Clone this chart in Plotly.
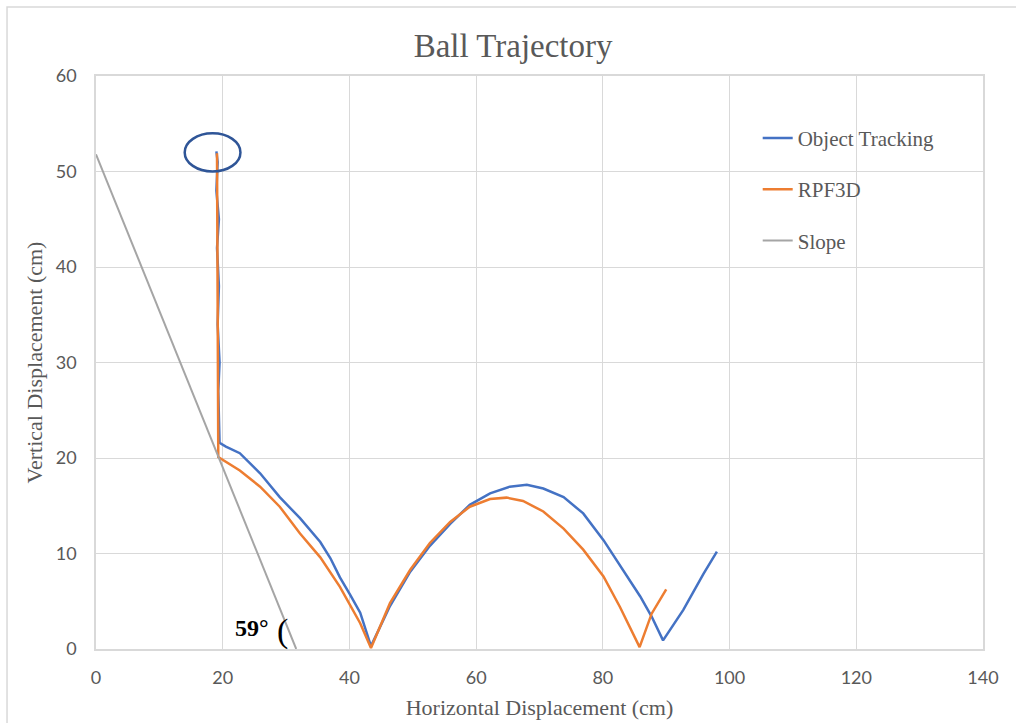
import plotly.graph_objects as go

# Object tracking trajectory (cm)
tracking_x = [19.0, 19.2, 19.0, 19.4, 19.1, 19.4, 19.2, 19.5, 19.3, 19.4, 19.5,
              20.5, 22.7, 25.9, 29.0, 32.2, 35.4, 37.0, 38.5, 40.1, 41.7, 43.4,
              46.4, 49.6, 52.7, 55.9, 59.0, 62.2, 65.3, 68.0, 70.6, 73.8, 76.9,
              80.1, 83.2, 85.9, 87.7, 89.5, 92.7, 95.9, 98.0]
tracking_y = [52.1, 51.0, 48.0, 45.0, 42.0, 38.0, 34.0, 30.0, 27.0, 24.0, 21.6,
              21.2, 20.5, 18.4, 15.9, 13.7, 11.2, 9.5, 7.5, 5.7, 3.8, 0.3,
              4.5, 8.1, 10.8, 13.1, 15.1, 16.3, 17.0, 17.2, 16.8, 15.9, 14.2,
              11.4, 8.3, 5.5, 3.4, 0.9, 4.1, 7.9, 10.2]

# RPF3D simulated trajectory (cm)
rpf_x = [19.1, 19.3, 22.7, 25.9, 29.0, 32.2, 35.4, 38.5, 41.7, 43.4,
         46.4, 49.6, 52.7, 55.9, 59.0, 62.2, 64.8, 67.4, 70.6, 73.8, 76.9,
         80.1, 82.7, 84.5, 85.8, 87.7, 90.0]
rpf_y = [51.9, 20.1, 18.7, 17.0, 14.9, 12.1, 9.6, 6.5, 2.7, 0.1,
         4.8, 8.3, 11.1, 13.3, 14.9, 15.7, 15.85, 15.5, 14.4, 12.6, 10.4,
         7.6, 4.4, 2.0, 0.2, 3.7, 6.25]

# Inclined plane
slope_x = [0, 31.6]
slope_y = [51.8, 0]

x_ticks = [0, 20, 40, 60, 80, 100, 120, 140]
y_ticks = [0, 10, 20, 30, 40, 50, 60]

# Release point marker (centre and radii, cm)
release_cx, release_cy = 18.4, 52.0
release_rx, release_ry = 4.4, 2.0

SERIF = "Liberation Serif, Times New Roman, serif"
SANS = "Lato, Calibri, sans-serif"
TEXT = "#595959"
GRID = "#D9D9D9"

fig = go.Figure()
fig.add_trace(go.Scatter(x=tracking_x, y=tracking_y, mode="lines", name="Object Tracking",
                         legendgroup="a", line=dict(color="#4472C4", width=2.5)))
fig.add_trace(go.Scatter(x=rpf_x, y=rpf_y, mode="lines", name="RPF3D",
                         legendgroup="b", line=dict(color="#ED7D31", width=2.5)))
fig.add_trace(go.Scatter(x=slope_x, y=slope_y, mode="lines", name="Slope",
                         legendgroup="c", line=dict(color="#A5A5A5", width=2)))

fig.add_shape(type="circle", xref="x", yref="y",
              x0=release_cx - release_rx, x1=release_cx + release_rx,
              y0=release_cy - release_ry, y1=release_cy + release_ry,
              line=dict(color="#2F5597", width=2.5))

# outer chart frame
fig.add_shape(type="rect", xref="paper", yref="paper",
              x0=-0.1003, x1=1.2, y0=-0.3, y1=1.1204,
              line=dict(color=GRID, width=1.5), layer="below")

fig.add_annotation(x=24.6, y=2.2, xref="x", yref="y", text="<b>59°</b>", showarrow=False,
                   font=dict(family=SERIF, size=24, color="black"))
fig.add_annotation(x=29.4, y=1.9, xref="x", yref="y", text="(", showarrow=False,
                   font=dict(family=SERIF, size=34, color="black"))

fig.update_layout(
    width=1016, height=723,
    margin=dict(l=96, r=33, t=76, b=74),
    paper_bgcolor="white", plot_bgcolor="white",
    title=dict(text="Ball Trajectory", x=0.505, xref="container", xanchor="center",
               y=1 - 45 / 723, yanchor="middle",
               font=dict(family=SERIF, size=33, color=TEXT)),
    legend=dict(x=0.746, y=0.927, xanchor="left", yanchor="top",
                font=dict(family=SERIF, size=21, color=TEXT),
                tracegroupgap=21, bgcolor="rgba(0,0,0,0)"),
    xaxis=dict(range=[0, 140], tickvals=x_ticks, showgrid=True, gridcolor=GRID, gridwidth=1,
               showline=True, linecolor=GRID, linewidth=1.5, mirror=True, zeroline=False,
               ticks="", ticklabelstandoff=12, automargin=False,
               tickfont=dict(family=SANS, size=18, color=TEXT),
               title=dict(text="Horizontal Displacement (cm)", standoff=12,
                          font=dict(family=SERIF, size=22, color=TEXT))),
    yaxis=dict(range=[0, 60], tickvals=y_ticks, showgrid=True, gridcolor=GRID, gridwidth=1,
               showline=True, linecolor=GRID, linewidth=1.5, mirror=True, zeroline=False,
               ticks="", ticklabelstandoff=14, automargin=False,
               tickfont=dict(family=SANS, size=18, color=TEXT),
               title=dict(text="Vertical Displacement (cm)", standoff=7,
                          font=dict(family=SERIF, size=22, color=TEXT))),
)

fig.write_html("out.html")
